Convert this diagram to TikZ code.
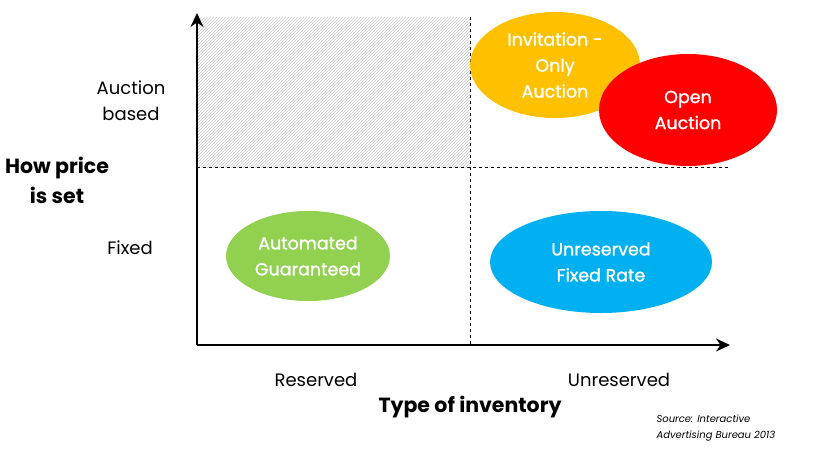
\documentclass[tikz,border=0pt]{standalone}
\usepackage{fontspec}
\setmainfont{Poppins}
\newfontfamily\blobfont{Poppins}[FakeBold=1.2]
\usetikzlibrary{shapes.geometric,arrows.meta,patterns,positioning}
\definecolor{gold}{HTML}{FFC000}
\definecolor{brightred}{HTML}{FF0000}
\definecolor{leafgreen}{HTML}{92D050}
\definecolor{skyblue}{HTML}{00B0F0}

\begin{document}
\begin{tikzpicture}[x=1pt, y=-1pt,
  axis/.style={line width=2.6pt, -{Stealth[length=14pt,width=13pt]}},
  grid/.style={dashed, thin},
  blob/.style={ellipse, text=white, align=center, inner sep=0pt,
    font=\blobfont\fontsize{17.5}{26}\selectfont},
  lab/.style={align=center, font=\fontsize{18}{26}\selectfont},
  title/.style={align=center, font=\fontsize{20.5}{30}\selectfont\bfseries}]
  \useasboundingbox (0,0) rectangle (813,450);

  % Quadrants
  \coordinate (O) at (197,345);
  \coordinate (ytop) at (197,13);
  \coordinate (xend) at (730,345);
  \fill[pattern=north east lines, pattern color=gray!45] (197,17) rectangle (470,167);
  \draw[grid] (197,167) -- (728,167);
  \draw[grid] (470,17) -- (470,345);

  % Nodes
  \node[blob, fill=gold, minimum width=170, minimum height=106] (invite) at (555,65) {Invitation -\\Only\\Auction};
  \node[blob, fill=brightred, minimum width=178, minimum height=112] (open) at (688,110) {Open\\Auction};
  \node[blob, fill=leafgreen, minimum width=164, minimum height=90] (auto) at (308,256) {Automated\\Guaranteed};
  \node[blob, fill=skyblue, minimum width=222, minimum height=102] (unres) at (601,262) {Unreserved\\Fixed Rate};

  \node[lab] (auction) at (131,101) {Auction\\based};
  \node[lab] (fixed) at (130,248) {Fixed};
  \node[title] (price) at (57,180) {How price\\is set};
  \node[lab] (reserved) at (316,380) {Reserved};
  \node[lab] (unreserved) at (619,380) {Unreserved};
  \node[title] (type) at (470,407) {Type of inventory};
  \node[align=left, anchor=north west, font=\fontsize{10}{16}\selectfont\itshape] (source) at (653,411) {Source: Interactive\\Advertising Bureau 2013};

  % Arrows
  \draw[axis] (O) -- (ytop);
  \draw[axis] (O) -- (xend);
\end{tikzpicture}
\end{document}
